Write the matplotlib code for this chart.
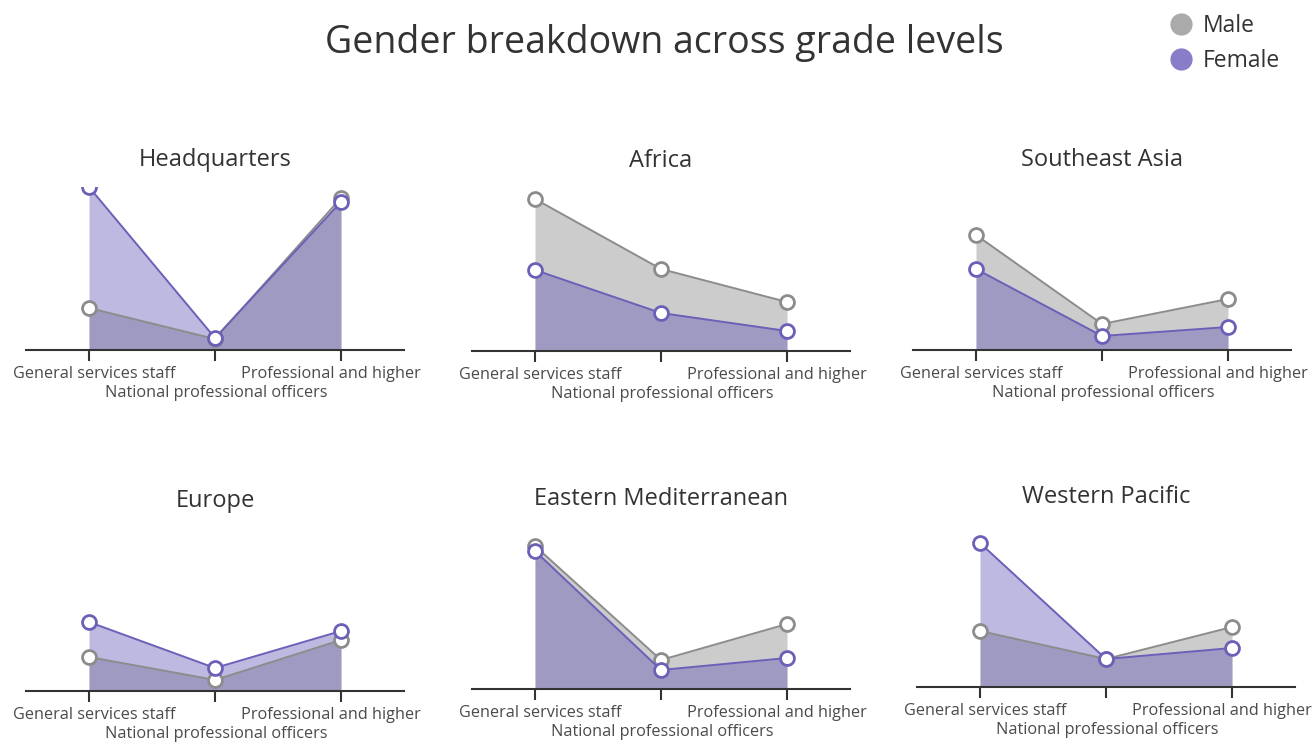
import matplotlib
matplotlib.use("Agg")
import matplotlib.pyplot as plt
from matplotlib.lines import Line2D

# grade levels on the x axis
grades = ["General services staff", "National professional officers", "Professional and higher"]
regions = ["Headquarters", "Africa", "Southeast Asia",
           "Europe", "Eastern Mediterranean", "Western Pacific"]

# staff counts (male, female) per grade
male_hq = [252, 66, 912]
female_hq = [978, 72, 888]
male_afr = [912, 492, 294]
female_afr = [486, 228, 120]
male_sea = [690, 156, 306]
female_sea = [486, 84, 138]
male_eur = [204, 66, 306]
female_eur = [414, 138, 360]
male_emr = [858, 174, 390]
female_emr = [828, 114, 186]
male_wpr = [336, 168, 360]
female_wpr = [864, 168, 234]

male_vals = [male_hq, male_afr, male_sea, male_eur, male_emr, male_wpr]
female_vals = [female_hq, female_afr, female_sea, female_eur, female_emr, female_wpr]

MALE_FILL = "#9b9b9b"
FEMALE_FILL = "#5c50b4"
MALE_LINE = "#8c8c8c"
FEMALE_LINE = "#6b60b8"
TEXT = "#333333"

plt.rcParams["font.family"] = ["Open Sans", "DejaVu Sans"]

W, H = 1313, 744
fig = plt.figure(figsize=(W / 100, H / 100), dpi=100)

# axes boxes in pixels: left, baseline
boxes = [(26, 350), (472, 351), (913, 350),
         (26, 691), (472, 689), (917, 687)]
ax_w, ax_h = 378, 163
ymax = max(max(v) for v in female_vals + male_vals)

# label placement (pixel offsets from each tick)
label_dx = [5, 1, -10]
label_dy = [-24, -43, -24]

x = list(range(len(grades)))
for i, region in enumerate(regions):
    left, base = boxes[i]
    ax = fig.add_axes([left / W, (H - base) / H, ax_w / W, ax_h / H])
    m = male_vals[i]
    f = female_vals[i]
    ax.fill_between(x, m, color=MALE_FILL, alpha=0.5, lw=0)
    ax.fill_between(x, f, color=FEMALE_FILL, alpha=0.4, lw=0)
    ax.plot(x, m, color=MALE_LINE, lw=1.4, marker="o", ms=10,
            mfc="white", mec=MALE_LINE, mew=2)
    ax.plot(x, f, color=FEMALE_LINE, lw=1.4, marker="o", ms=10,
            mfc="white", mec=FEMALE_LINE, mew=2)
    ax.set_xlim(-0.5, 2.5)
    ax.set_ylim(0, ymax)
    for s in ["top", "right", "left"]:
        ax.spines[s].set_visible(False)
    ax.spines["bottom"].set_color(TEXT)
    ax.spines["bottom"].set_linewidth(1.5)
    ax.set_yticks([])
    ax.set_xticks(x)
    ax.set_xticklabels([])
    ax.tick_params(axis="x", length=8, width=1.5, color=TEXT)
    for k, g in enumerate(grades):
        ax.annotate(g, xy=(k, 0), xycoords=("data", "axes fraction"),
                    xytext=(label_dx[k], label_dy[k]), textcoords="offset pixels",
                    ha="center", va="center", fontsize=11.7, color="#4a4a4a",
                    annotation_clip=False)
    ax.set_title(region, fontsize=17, color=TEXT, pad=15)

fig.text(664 / W, 1 - 43 / H, "Gender breakdown across grade levels",
         ha="center", va="center", fontsize=27, color=TEXT)

handles = [Line2D([], [], marker="o", ls="", ms=15, color="#aaaaaa", label="Male"),
           Line2D([], [], marker="o", ls="", ms=15, color="#877dc8", label="Female")]
fig.legend(handles=handles, loc="upper left", bbox_to_anchor=(1147 / W, 1 + 7 / H),
           frameon=False, fontsize=16.5, handletextpad=0.35, labelspacing=0.48,
           labelcolor=TEXT, handlelength=1.2)

fig.savefig("out.png", dpi=100)
